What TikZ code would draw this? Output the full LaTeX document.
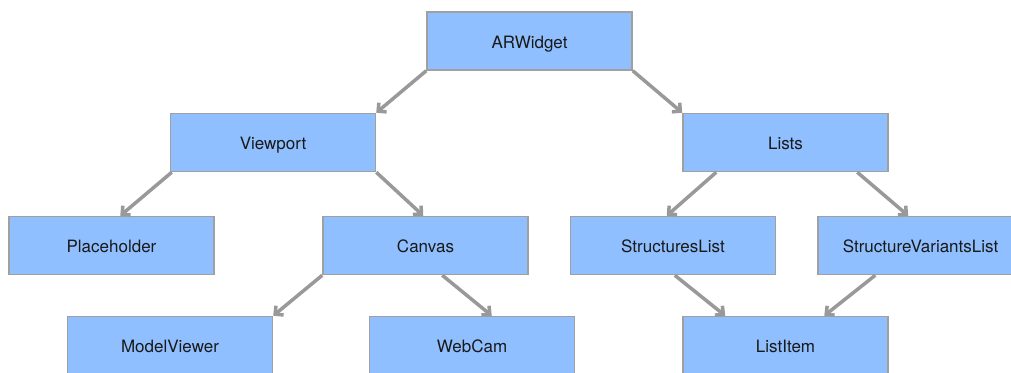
\documentclass[tikz,border=0pt]{standalone}
\usepackage{fontspec}
\setmainfont{TeX Gyre Heros}
\usetikzlibrary{arrows.meta}
\definecolor{boxfill}{HTML}{8FBFFF}
\definecolor{boxline}{HTML}{A0A0A0}
\definecolor{linkgray}{HTML}{999999}
\tikzset{
  comp/.style={rectangle, draw=boxline, line width=1.5pt, fill=boxfill,
    minimum width=205pt, minimum height=58pt, inner sep=0pt,
    text height=15pt, text depth=1pt,
    font=\fontsize{17}{20}\selectfont, text=black!90},
  link/.style={draw=linkgray, line width=3.5pt, line join=miter,
    -{Straight Barb[length=6pt,width=12pt,line join=miter]}}
}
\begin{document}
\begin{tikzpicture}[x=1pt,y=-1pt]
  \useasboundingbox (0,0) rectangle (1011,372);
  \clip (0,0) rectangle (1011,372);
  % component tree
  \node[comp] (ar)  at (529.5,41)   {ARWidget};
  \node[comp] (vp)  at (273,142.5)  {Viewport};
  \node[comp] (ls)  at (785.5,142.5){Lists};
  \node[comp] (ph)  at (111.5,245.5){Placeholder};
  \node[comp] (cv)  at (425.5,245.5){Canvas};
  \node[comp] (sl)  at (673,245.5)  {StructuresList};
  \node[comp] (svl) at (920.5,245.5){StructureVariantsList};
  \node[comp] (mv)  at (170,345.5)  {ModelViewer};
  \node[comp] (wc)  at (472,345.5)  {WebCam};
  \node[comp] (li)  at (785.5,345.5){ListItem};
  % parent -> child links
  \draw[link] (ar.south west) -- (vp.north east);
  \draw[link] (ar.south east) -- (ls.north west);
  \draw[link] ([xshift=2pt]vp.south west) -- ([xshift=112pt]ph.north west);
  \draw[link] (vp.south east) -- ([xshift=101pt]cv.north west);
  \draw[link] (cv.south west) -- (mv.north east);
  \draw[link] ([xshift=120pt]cv.south west) -- ([xshift=123pt]wc.north west);
  \draw[link] ([xshift=34pt]ls.south west) -- ([xshift=97pt]sl.north west);
  \draw[link] ([xshift=175pt]ls.south west) -- ([xshift=91pt]svl.north west);
  \draw[link] ([xshift=105pt]sl.south west) -- ([xshift=43pt]li.north west);
  \draw[link] ([xshift=58pt]svl.south west) -- ([xshift=142pt]li.north west);
\end{tikzpicture}
\end{document}
